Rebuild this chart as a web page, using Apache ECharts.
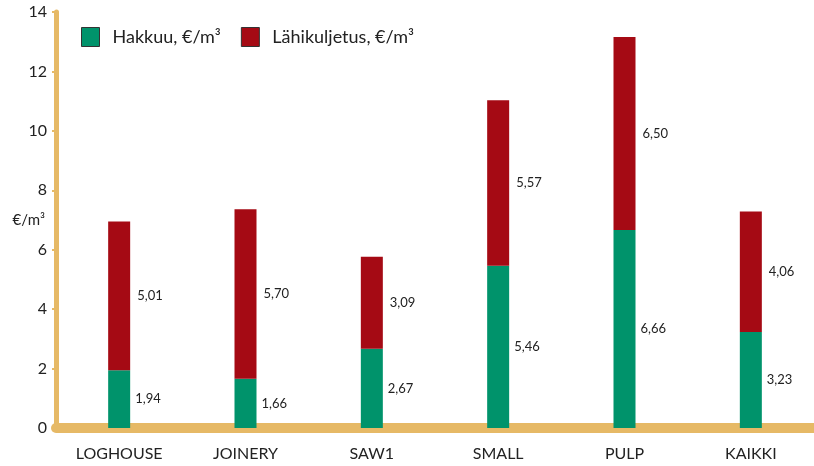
<!DOCTYPE html>
<html>
<head>
<meta charset="utf-8">
<script src="https://cdn.jsdelivr.net/npm/echarts@6/dist/echarts.min.js"></script>
<style>html,body{margin:0;padding:0;background:#fff}#c{width:814px;height:466px}</style>
</head>
<body>
<div id="c"></div>
<script>
const categories = ['LOGHOUSE', 'JOINERY', 'SAW1', 'SMALL', 'PULP', 'KAIKKI'];
const hakkuu = [1.94, 1.66, 2.67, 5.46, 6.66, 3.23];
const lahikuljetus = [5.01, 5.70, 3.09, 5.57, 6.50, 4.06];
const yTicks = [0, 2, 4, 6, 8, 10, 12, 14];
const seriesNames = ['Hakkuu, €/m³', 'Lähikuljetus, €/m³'];

const gold = '#e6b966';
const FONT = 'Lato';
const fmt = p => p.value.toFixed(2).replace('.', ',');

const chart = echarts.init(document.getElementById('c'));
chart.setOption({
  backgroundColor: '#fff',
  textStyle: { fontFamily: FONT },
  legend: {
    left: 76, top: 22,
    itemWidth: 18, itemHeight: 19, itemGap: 20,
    textStyle: { fontFamily: FONT, fontSize: 18, color: '#222', padding: [0, 0, 0, 8] },
    data: [
      { name: seriesNames[0], icon: 'rect', itemStyle: { borderColor: '#333', borderWidth: 1 } },
      { name: seriesNames[1], icon: 'rect', itemStyle: { borderColor: '#333', borderWidth: 1 } }
    ]
  },
  grid: { left: 56, right: 0, top: 12, bottom: 38, containLabel: false, outerBoundsMode: 'none' },
  xAxis: {
    type: 'category',
    data: categories,
    offset: 5,
    axisLine: { lineStyle: { color: gold, width: 10 } },
    axisTick: { show: false },
    axisLabel: { color: '#222', fontSize: 16, margin: 13, fontFamily: FONT }
  },
  yAxis: {
    type: 'value',
    min: 0, max: 14, interval: 2,
    name: '€/m³',
    nameLocation: 'middle',
    nameRotate: 0,
    nameGap: 11,
    nameMoveOverlap: false,
    nameTextStyle: { color: '#222', fontSize: 15, fontFamily: FONT, align: 'right' },
    axisLine: { show: true, lineStyle: { color: gold, width: 5 } },
    axisTick: { show: true, length: 4, lineStyle: { color: gold, width: 2 } },
    axisLabel: {
      color: '#222', fontSize: 16, margin: 9, fontFamily: FONT,
      formatter: v => yTicks.includes(v) ? String(v) : ''
    },
    splitLine: { show: false }
  },
  series: [
    {
      name: seriesNames[0], type: 'bar', stack: 'a', data: hakkuu,
      barWidth: 22,
      itemStyle: { color: '#00936b' },
      label: { show: true, position: 'right', distance: 5, formatter: fmt, color: '#222', fontSize: 13, fontFamily: FONT }
    },
    {
      name: seriesNames[1], type: 'bar', stack: 'a', data: lahikuljetus,
      barWidth: 22,
      itemStyle: { color: '#a50a14' },
      label: { show: true, position: 'right', distance: 7, formatter: fmt, color: '#222', fontSize: 13, fontFamily: FONT }
    }
  ],
  animation: false
});
</script>
</body>
</html>
